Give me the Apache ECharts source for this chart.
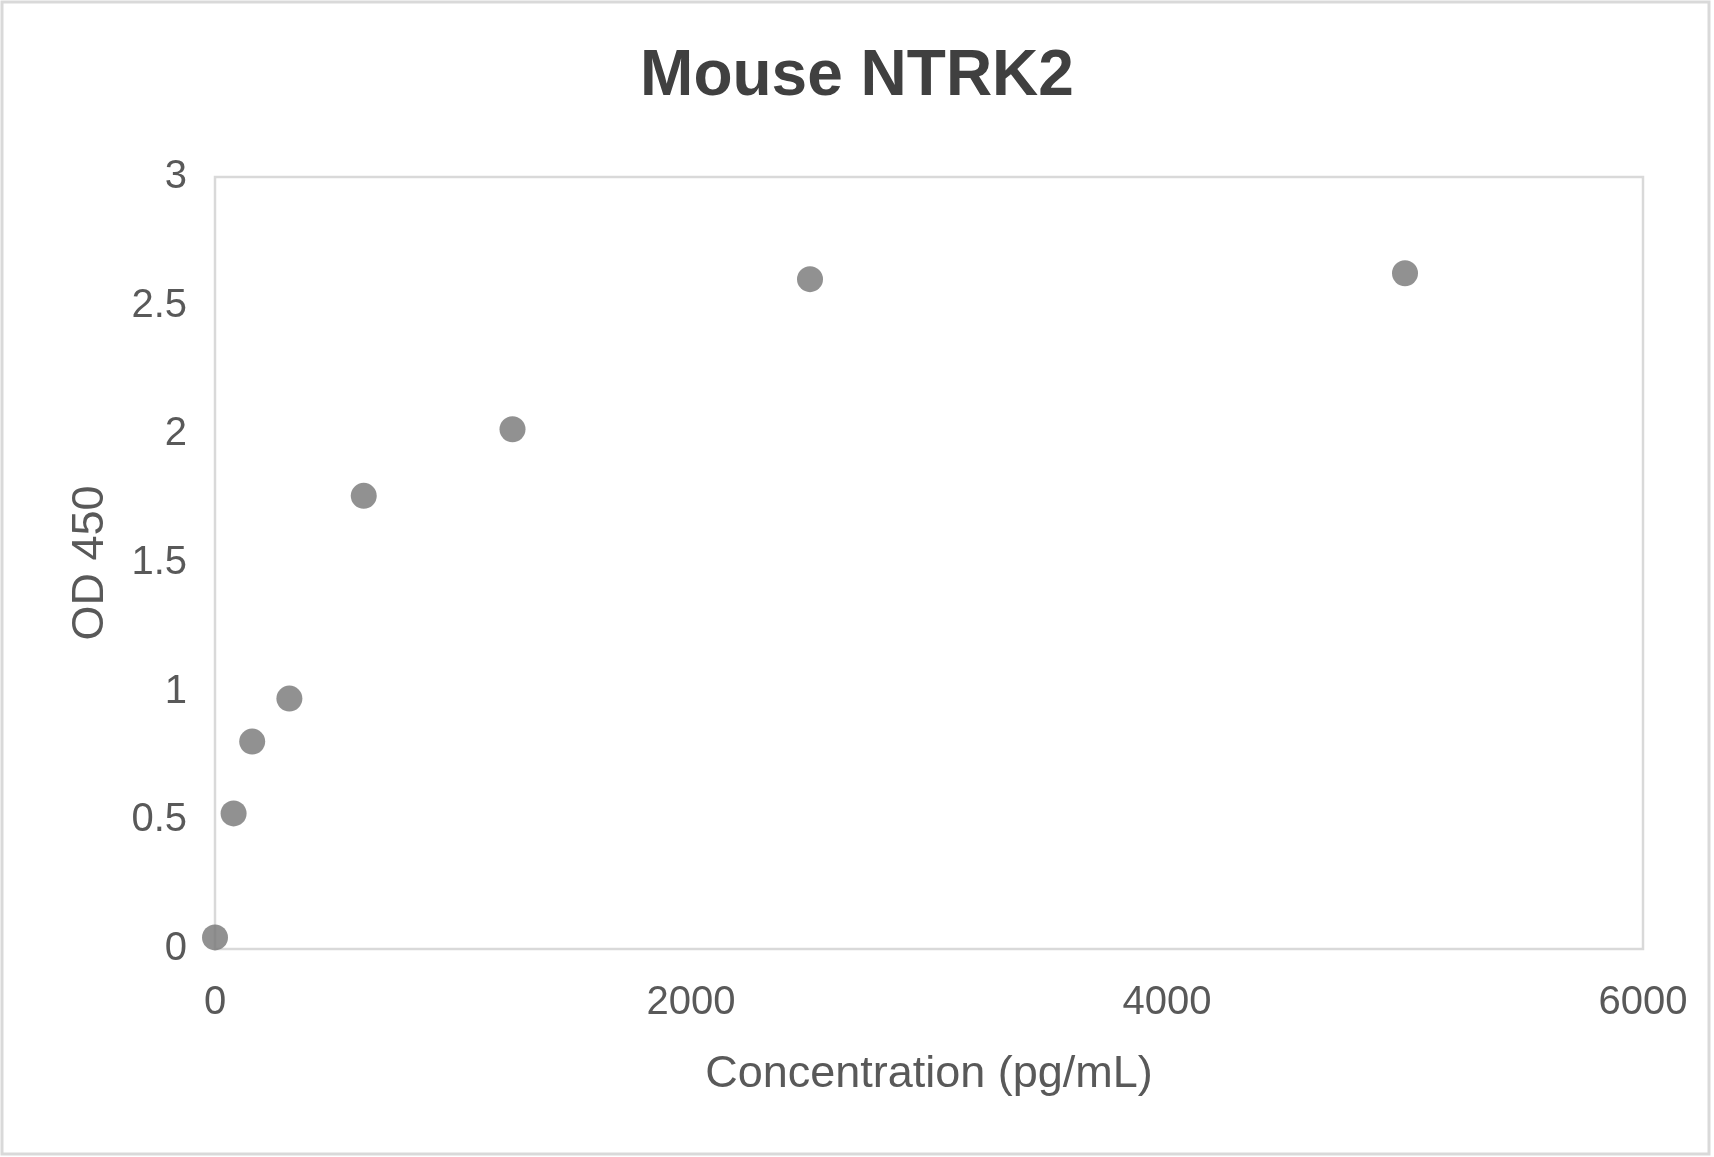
<!DOCTYPE html>
<html>
<head>
<meta charset="utf-8">
<script src="https://cdn.jsdelivr.net/npm/echarts@6/dist/echarts.min.js"></script>
<style>
html,body{margin:0;padding:0;background:#fff;}
#chart{width:1714px;height:1157px;}
</style>
</head>
<body>
<div id="chart"></div>
<script>
const chartTitle = 'Mouse NTRK2';
const xAxisTitle = 'Concentration (pg/mL)';
const yAxisTitle = 'OD 450';
const concentration = [0, 78.125, 156.25, 312.5, 625, 1250, 2500, 5000];
const od450 = [0.045, 0.527, 0.806, 0.973, 1.761, 2.020, 2.603, 2.626];

const points = concentration.map((c, i) => [c, od450[i]]);
const FONT = '"Liberation Sans", Arial, sans-serif';

const chart = echarts.init(document.getElementById('chart'));
chart.setOption({
  backgroundColor: '#ffffff',
  animation: false,
  graphic: [{
    type: 'rect',
    shape: {x: 2, y: 2, width: 1707, height: 1152},
    style: {fill: 'none', stroke: '#d9d9d9', lineWidth: 3},
    silent: true
  }],
  title: {
    text: chartTitle,
    left: 'center',
    top: 40,
    textStyle: {fontFamily: FONT, fontSize: 64, fontWeight: 'bold', color: '#404040'}
  },
  grid: {
    left: 215, right: 71, top: 177, bottom: 208,
    show: true, borderColor: '#d9d9d9', borderWidth: 2.5, backgroundColor: 'transparent'
  },
  xAxis: {
    type: 'value',
    min: 0, max: 6000, interval: 2000,
    name: xAxisTitle,
    nameLocation: 'middle',
    nameGap: 103,
    nameTextStyle: {fontFamily: FONT, fontSize: 45, color: '#595959'},
    axisLine: {show: false},
    axisTick: {show: false},
    splitLine: {show: false},
    axisLabel: {fontFamily: FONT, fontSize: 40, color: '#595959', margin: 34,
      formatter: v => String(v)}
  },
  yAxis: {
    type: 'value',
    min: 0, max: 3, interval: 0.5,
    name: yAxisTitle,
    nameLocation: 'middle',
    nameRotate: 90,
    nameGap: 102,
    nameTextStyle: {fontFamily: FONT, fontSize: 45, color: '#595959'},
    axisLine: {show: false},
    axisTick: {show: false},
    splitLine: {show: false},
    axisLabel: {fontFamily: FONT, fontSize: 40, color: '#595959', margin: 28,
      padding: [8, 0, 0, 0]}
  },
  series: [{
    type: 'scatter',
    data: points,
    symbol: 'circle',
    symbolSize: 26,
    clip: false,
    itemStyle: {color: '#757575'}
  }]
});
</script>
</body>
</html>
